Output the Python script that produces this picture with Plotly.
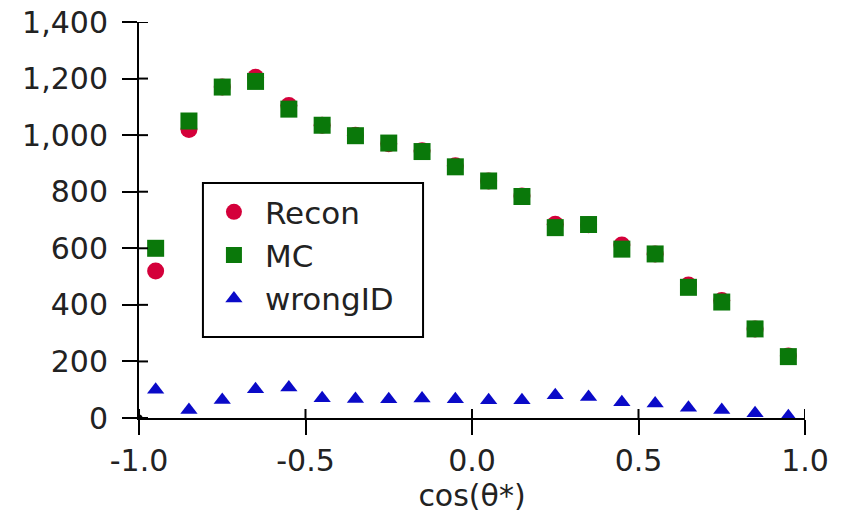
import plotly.graph_objects as go

# bin centres in cos(theta*)
cos_theta = [-0.95, -0.85, -0.75, -0.65, -0.55, -0.45, -0.35, -0.25, -0.15, -0.05,
             0.05, 0.15, 0.25, 0.35, 0.45, 0.55, 0.65, 0.75, 0.85, 0.95]

recon = [520, 1020, 1170, 1205, 1105, 1035, 1000, 970, 945, 892,
         838, 785, 685, 683, 612, 580, 470, 415, 315, 219]
mc = [600, 1050, 1170, 1190, 1092, 1035, 998, 972, 942, 888,
      838, 783, 673, 684, 597, 580, 462, 410, 315, 217]
wrong_id = [100, 28, 64, 102, 108, 70, 67, 66, 69, 66,
            63, 63, 80, 74, 56, 51, 36, 28, 17, 6]

x_ticks = [-1.0, -0.5, 0.0, 0.5, 1.0]
x_tick_text = ["-1.0", "-0.5", "0.0", "0.5", "1.0"]
y_ticks = [0, 200, 400, 600, 800, 1000, 1200, 1400]

X_RANGE = [-1, 1]
Y_RANGE = [0, 1400]

FONT = "DejaVu Sans"
TEXT_COLOR = "#222222"
INNER_TICK = 9  # px of each tick drawn on the plot side of the axis

fig = go.Figure()
fig.add_trace(go.Scatter(x=cos_theta, y=recon, mode="markers", name="Recon",
                         marker=dict(symbol="circle", size=17, color="#d4003a"),
                         cliponaxis=False))
fig.add_trace(go.Scatter(x=cos_theta, y=mc, mode="markers", name="MC",
                         marker=dict(symbol="square", size=17, color="#0a780a"),
                         cliponaxis=False))
fig.add_trace(go.Scatter(x=cos_theta, y=wrong_id, mode="markers", name="wrongID",
                         marker=dict(symbol="triangle-up", size=15, color="#0a0ac8"),
                         cliponaxis=False))

shapes = []
# framed box behind the legend entries
shapes.append(dict(type="rect", xref="paper", yref="paper", layer="below",
                   x0=0.096, x1=0.4265, y0=0.2045, y1=0.5935,
                   fillcolor="white", line=dict(color="black", width=2)))
# inner halves of the crossing tick marks
for xv in x_ticks:
    shapes.append(dict(type="line", xref="x", yref="y", ysizemode="pixel",
                       yanchor=Y_RANGE[0], x0=xv, x1=xv, y0=0, y1=INNER_TICK,
                       line=dict(color="black", width=2)))
for yv in y_ticks:
    shapes.append(dict(type="line", xref="x", yref="y", xsizemode="pixel",
                       xanchor=X_RANGE[0], y0=yv, y1=yv, x0=0, x1=INNER_TICK,
                       line=dict(color="black", width=2)))
# dot where the two axes meet
shapes.append(dict(type="circle", xref="x", yref="y", xsizemode="pixel", ysizemode="pixel",
                   xanchor=X_RANGE[0], yanchor=Y_RANGE[0], x0=-3.5, x1=3.5, y0=-3.5, y1=3.5,
                   fillcolor="black", line=dict(width=0)))

axis_common = dict(showgrid=False, zeroline=False, showline=True,
                   linecolor="black", linewidth=2, tickcolor="black",
                   tickwidth=2, ticklen=15, ticks="outside", automargin=False)

fig.update_layout(
    width=844, height=518,
    margin=dict(l=139, r=39, t=22, b=100),
    paper_bgcolor="white", plot_bgcolor="white",
    font=dict(family=FONT, size=30, color=TEXT_COLOR),
    xaxis=dict(range=X_RANGE, tickvals=x_ticks, ticktext=x_tick_text,
               title=dict(text="cos(θ*)", font=dict(size=30), standoff=8),
               **axis_common),
    yaxis=dict(range=Y_RANGE, tickvals=y_ticks, tickformat=",d",
               ticklabelstandoff=8, **axis_common),
    shapes=shapes,
    legend=dict(x=0.096, y=0.588, xanchor="left", yanchor="top",
                borderwidth=0, bgcolor="rgba(0,0,0,0)",
                font=dict(family=FONT, size=31, color=TEXT_COLOR),
                itemwidth=52, tracegroupgap=0),
    showlegend=True,
)

fig.write_html("out.html")
